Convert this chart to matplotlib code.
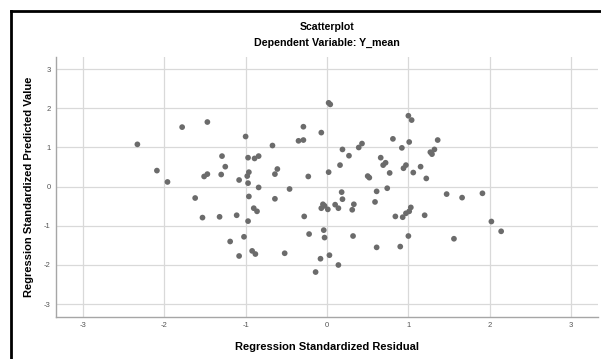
import matplotlib
matplotlib.use("Agg")
import matplotlib.pyplot as plt
from matplotlib.lines import Line2D

# Data
residuals = [-2.33, -2.09, -1.96, -1.78, -1.47, -1.29, -1.25, -1.51, -1.47, -1.30,
             -1.08, -1.00, -0.97, -0.89, -0.84, -0.98, -0.96, -0.97, -0.84, -0.67,
             -0.61, -0.64, -0.46, -0.35, -0.29, -0.29, -0.23, -0.07, 0.02, 0.04,
             0.02, 0.19, 0.16, 0.27, 0.39, 0.43, 0.50, 0.52, 0.66, 0.72,
             0.69, 0.81, 0.77, 0.74, 1.00, 1.04, 0.92, 1.01, 1.36, 1.27,
             1.32, 1.29, 0.94, 0.97, 1.06, 1.15, 1.22, -1.62, -1.53, -1.32,
             -1.19, -0.96, -0.90, -0.86, -1.11, -0.97, -1.02, -1.08, -0.92, -0.88,
             -0.64, -0.52, -0.28, -0.22, -0.05, -0.07, -0.03, 0.01, -0.04, -0.03,
             -0.08, 0.03, -0.14, 0.14, 0.10, 0.14, 0.18, 0.19, 0.33, 0.31,
             0.32, 0.61, 0.59, 0.61, 0.84, 1.47, 1.66, 1.91, 1.03, 1.01,
             0.97, 0.93, 1.20, 1.00, 0.90, 1.56, 2.02, 2.14]
predicted = [1.08, 0.41, 0.12, 1.52, 1.65, 0.78, 0.51, 0.26, 0.32, 0.31,
             0.17, 1.28, 0.74, 0.72, 0.78, 0.27, 0.37, 0.09, -0.02, 1.05,
             0.45, 0.32, -0.06, 1.17, 1.19, 1.53, 0.26, 1.38, 2.14, 2.10,
             0.37, 0.95, 0.55, 0.79, 1.00, 1.10, 0.27, 0.23, 0.74, 0.61,
             0.55, 1.22, 0.35, -0.04, 1.81, 1.70, 0.99, 1.14, 1.19, 0.88,
             0.95, 0.83, 0.47, 0.55, 0.36, 0.51, 0.21, -0.29, -0.79, -0.77,
             -1.40, -0.25, -0.55, -0.63, -0.73, -0.88, -1.28, -1.77, -1.64, -1.72,
             -0.31, -1.70, -0.76, -1.21, -0.45, -0.55, -0.49, -0.58, -1.11, -1.30,
             -1.84, -1.75, -2.18, -2.00, -0.46, -0.55, -0.14, -0.32, -0.45, -0.59,
             -1.26, -0.12, -0.39, -1.55, -0.76, -0.19, -0.28, -0.17, -0.53, -0.63,
             -0.68, -0.78, -0.73, -1.26, -1.53, -1.33, -0.89, -1.14]
ticks = [-3, -2, -1, 0, 1, 2, 3]
title = "Scatterplot"
subtitle = "Dependent Variable: Y_mean"
xlabel = "Regression Standardized Residual"
ylabel = "Regression Standardized Predicted Value"

plt.rcParams['font.family'] = ['Liberation Sans', 'DejaVu Sans']

W, H = 601, 359
fig = plt.figure(figsize=(W / 100, H / 100), dpi=100)
fig.patch.set_facecolor('white')

ax = fig.add_axes([56 / W, (H - 316.7) / H, (598 - 56) / W, (316.7 - 57) / H])
ax.scatter(residuals, predicted, s=17, color='#6b6b6b', edgecolors='none', zorder=3)
ax.set_xlim(-3.33, 3.33)
ax.set_ylim(-3.32, 3.31)
ax.set_xticks(ticks)
ax.set_yticks(ticks)
ax.set_xticklabels([str(t) for t in ticks])
ax.set_yticklabels([str(t) for t in ticks])
ax.grid(True, color='#d9d9d9', linewidth=0.9, zorder=0)
ax.set_axisbelow(True)
for side in ['top', 'right']:
    ax.spines[side].set_visible(False)
for side in ['left', 'bottom']:
    ax.spines[side].set_color('#a6a6a6')
    ax.spines[side].set_linewidth(1.0)
ax.tick_params(length=0, labelsize=5.5, colors='#555555', pad=4)

fig.text(327 / W, 1 - 27 / H, title, ha='center', va='center', fontsize=7.6, fontweight='bold')
fig.text(327 / W, 1 - 43 / H, subtitle, ha='center', va='center', fontsize=7.7, fontweight='bold')
fig.text(327 / W, 1 - 347 / H, xlabel, ha='center', va='center', fontsize=8, fontweight='bold')
fig.text(29 / W, 1 - 187 / H, ylabel, ha='center', va='center', fontsize=8,
         fontweight='bold', rotation=90)

# outer frame (top and left edges visible)
fig.add_artist(Line2D([11 / W, 1.0], [1 - 11 / H, 1 - 11 / H], color='black', linewidth=2))
fig.add_artist(Line2D([11 / W, 11 / W], [0.0, 1 - 11 / H], color='black', linewidth=2))

fig.savefig('out.png', dpi=100, facecolor='white')
